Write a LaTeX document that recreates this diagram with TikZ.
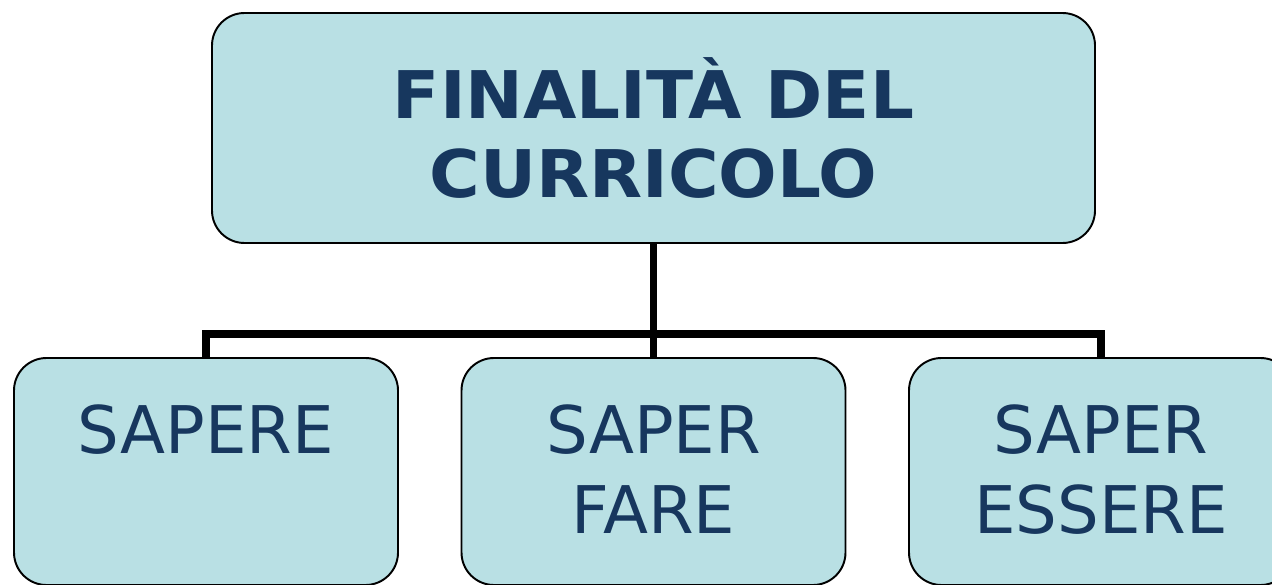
\documentclass[tikz,border=0pt]{standalone}
\usepackage{fontspec}
\setmainfont{DejaVu Sans}
\newfontfamily\titlefont[FakeStretch=1.05]{DejaVu Sans Bold}
\usepackage{tikz}
\usetikzlibrary{positioning}
\definecolor{boxfill}{RGB}{185,224,228}
\definecolor{boxtext}{RGB}{23,55,94}
\tikzset{
  % Specifications for style of nodes:
  base/.style = {
    rectangle,
    rounded corners=0.65cm,
    draw=black,
    line width=1.1pt,
    fill=boxfill,
    text=boxtext,
    text centered
  },
  goal/.style = {
    base,
    minimum width=17.66cm,
    minimum height=4.6cm,
    align=center,
    font=\fontsize{37.4}{45.5}\selectfont\titlefont
  },
  branch/.style = {
    base,
    minimum width=7.68cm,
    minimum height=4.54cm
  },
  lbl/.style = {
    anchor=north,
    inner sep=0pt,
    yshift=-0.94cm,
    align=center,
    text=boxtext,
    font=\fontsize{37.4}{45.5}\selectfont
  },
  link/.style = {
    line width=4.5pt,
    draw=black
  },
}
\begin{document}
\begin{tikzpicture}
    \useasboundingbox (0,0) rectangle (25.44,11.68);
    % Specification of nodes (position, etc.)
    \node[goal] (goal) at (13.07, 9.12) {FINALITÀ DEL\\CURRICOLO};
    \node[branch, label={[lbl]north:SAPERE}]        (sapere)  at (4.12, 2.25)  {};
    \node[branch, label={[lbl]north:SAPER\\FARE}]   (fare)    at (13.07, 2.25) {};
    \node[branch, label={[lbl]north:SAPER\\ESSERE}] (essere)  at (22.02, 2.25) {};
    \coordinate (bus) at (13.07, 5.0);
    % Connectors
    \draw[link] (goal.south) -- (bus) -- (fare.north);
    \draw[link] (sapere.north) |- (bus);
    \draw[link] (essere.north) |- (bus);
\end{tikzpicture}
\end{document}
